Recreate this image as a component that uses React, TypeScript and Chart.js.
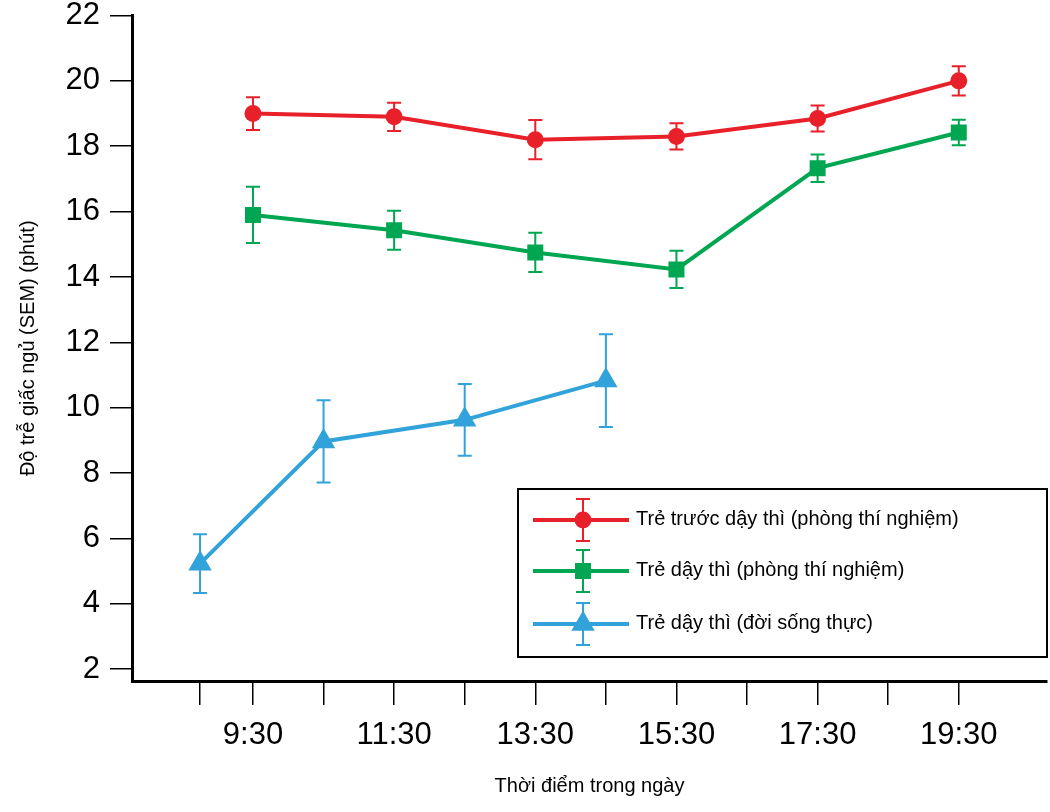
import React, { useEffect, useRef } from "react";
import { Chart, registerables } from "chart.js";

Chart.register(...registerables);

// ---------- data ----------
const labTimes = [9.5, 11.5, 13.5, 15.5, 17.5, 19.5];
const realTimes = [8.75, 10.5, 12.5, 14.5];

const prepubertalLab = [19.0, 18.9, 18.2, 18.3, 18.85, 20.0];
const prepubertalLabSem = [0.5, 0.43, 0.6, 0.4, 0.4, 0.45];

const pubertalLab = [15.9, 15.43, 14.75, 14.23, 17.33, 18.42];
const pubertalLabSem = [0.86, 0.6, 0.6, 0.57, 0.42, 0.39];

const pubertalReal = [5.23, 8.97, 9.63, 10.83];
const pubertalRealSem = [0.9, 1.26, 1.1, 1.42];

const seriesNames = [
  "Trẻ trước dậy thì (phòng thí nghiệm)",
  "Trẻ dậy thì (phòng thí nghiệm)",
  "Trẻ dậy thì (đời sống thực)",
];

const xTickHours = [8.75, 9.5, 10.5, 11.5, 12.5, 13.5, 14.5, 15.5, 16.5, 17.5, 18.5, 19.5];
const xTickLabels = ["9:30", "11:30", "13:30", "15:30", "17:30", "19:30"];
const yTickValues = [2, 4, 6, 8, 10, 12, 14, 16, 18, 20, 22];

const xTitle = "Thời điểm trong ngày";
const yTitle = "Độ trễ giấc ngủ (SEM) (phút)";

// ---------- styles ----------
const RED = "#E8202A";
const GREEN = "#00A651";
const BLUE = "#31A2DA";
const FONT = "'Liberation Sans', Arial, Helvetica, sans-serif";

const errorBarPlugin = {
  id: "errorBars",
  beforeDatasetsDraw(chart: any) {
    const { ctx } = chart;
    const xs = chart.scales.x;
    const ys = chart.scales.y;
    chart.data.datasets.forEach((ds: any) => {
      const sem: number[] = ds.sem || [];
      ctx.save();
      ctx.strokeStyle = ds.borderColor;
      ctx.lineWidth = 2;
      ds.data.forEach((pt: any, j: number) => {
        const e = sem[j];
        if (e == null) return;
        const px = xs.getPixelForValue(pt.x);
        const top = ys.getPixelForValue(pt.y + e);
        const bot = ys.getPixelForValue(pt.y - e);
        ctx.beginPath();
        ctx.moveTo(px, top);
        ctx.lineTo(px, bot);
        ctx.moveTo(px - 7, top);
        ctx.lineTo(px + 7, top);
        ctx.moveTo(px - 7, bot);
        ctx.lineTo(px + 7, bot);
        ctx.stroke();
      });
      ctx.restore();
    });
  },
};

function drawMarker(ctx: CanvasRenderingContext2D, style: string, x: number, y: number, r: number) {
  ctx.beginPath();
  if (style === "circle") {
    ctx.arc(x, y, r, 0, Math.PI * 2);
  } else if (style === "rect") {
    const s = r * Math.SQRT1_2;
    ctx.rect(x - s, y - s, 2 * s, 2 * s);
  } else {
    ctx.moveTo(x, y - r);
    ctx.lineTo(x + r * 0.866, y + r / 2);
    ctx.lineTo(x - r * 0.866, y + r / 2);
    ctx.closePath();
  }
  ctx.fill();
}

const boxLegendPlugin = {
  id: "boxLegend",
  afterDraw(chart: any) {
    const { ctx } = chart;
    const area = chart.chartArea;
    const right = area.right;
    const left = 518;
    const top = 489;
    const bottom = 657;
    ctx.save();
    ctx.fillStyle = "#fff";
    ctx.fillRect(left, top, right - left, bottom - top);
    ctx.strokeStyle = "#000";
    ctx.lineWidth = 2;
    ctx.strokeRect(left, top, right - left, bottom - top);
    const rows = [520, 571, 624];
    chart.data.datasets.forEach((ds: any, i: number) => {
      const cy = rows[i];
      const mx = 583;
      ctx.strokeStyle = ds.borderColor;
      ctx.fillStyle = ds.borderColor;
      ctx.lineWidth = 4;
      ctx.beginPath();
      ctx.moveTo(533, cy);
      ctx.lineTo(629, cy);
      ctx.stroke();
      ctx.lineWidth = 2;
      ctx.beginPath();
      ctx.moveTo(mx, cy - 21);
      ctx.lineTo(mx, cy + 21);
      ctx.moveTo(mx - 7, cy - 21);
      ctx.lineTo(mx + 7, cy - 21);
      ctx.moveTo(mx - 7, cy + 21);
      ctx.lineTo(mx + 7, cy + 21);
      ctx.stroke();
      drawMarker(ctx, ds.pointStyle, mx, cy, ds.pointRadius);
      ctx.fillStyle = "#000";
      ctx.font = `20px ${FONT}`;
      ctx.textBaseline = "middle";
      ctx.textAlign = "left";
      ctx.fillText(ds.label, 636, cy - 1);
    });
    ctx.restore();
  },
};

export default function App() {
  const canvasRef = useRef<HTMLCanvasElement | null>(null);

  useEffect(() => {
    if (!canvasRef.current) return;
    const mk = (xs: number[], ys: number[]) => xs.map((x, i) => ({ x, y: ys[i] }));
    const chart = new Chart(canvasRef.current, {
      type: "line",
      data: {
        datasets: [
          {
            label: seriesNames[0],
            data: mk(labTimes, prepubertalLab),
            sem: prepubertalLabSem,
            borderColor: RED,
            backgroundColor: RED,
            borderWidth: 4,
            pointStyle: "circle",
            pointRadius: 8.5,
            pointBorderWidth: 0,
          } as any,
          {
            label: seriesNames[1],
            data: mk(labTimes, pubertalLab),
            sem: pubertalLabSem,
            borderColor: GREEN,
            backgroundColor: GREEN,
            borderWidth: 4,
            pointStyle: "rect",
            pointRadius: 11.3,
            pointBorderWidth: 0,
          } as any,
          {
            label: seriesNames[2],
            data: mk(realTimes, pubertalReal),
            sem: pubertalRealSem,
            borderColor: BLUE,
            backgroundColor: BLUE,
            borderWidth: 4,
            pointStyle: "triangle",
            pointRadius: 13.5,
            pointBorderWidth: 0,
          } as any,
        ],
      },
      options: {
        animation: false,
        responsive: true,
        maintainAspectRatio: false,
        layout: { autoPadding: false, padding: { top: 15.5, right: 3, bottom: 0, left: 0 } },
        plugins: {
          legend: { display: false },
          tooltip: { enabled: false },
        },
        events: [],
        scales: {
          x: {
            type: "linear",
            min: 7.786,
            max: 20.75,
            afterBuildTicks: (s: any) => {
              s.ticks = xTickHours.map((v) => ({ value: v }));
            },
            afterFit: (s: any) => {
              s.height = 131;
              s.paddingLeft = 0;
              s.paddingRight = 0;
              s.paddingTop = 0;
              s.paddingBottom = 0;
            },
            grid: {
              drawOnChartArea: false,
              drawTicks: true,
              tickLength: 24,
              color: "#000",
              lineWidth: 1.5,
            },
            border: { display: true, color: "#000", width: 3 },
            ticks: {
              autoSkip: false,
              maxRotation: 0,
              padding: 12,
              color: "#000",
              font: { family: FONT, size: 31 },
              callback: (v: any) => {
                const idx = labTimes.findIndex((t) => Math.abs(t - Number(v)) < 1e-6);
                return idx >= 0 ? xTickLabels[idx] : "";
              },
            },
            title: {
              display: true,
              text: xTitle,
              color: "#000",
              font: { family: FONT, size: 20 },
              padding: { top: 0, bottom: 14 },
            },
          },
          y: {
            type: "linear",
            min: 1.64,
            max: 22,
            afterBuildTicks: (s: any) => {
              s.ticks = yTickValues.map((v) => ({ value: v }));
            },
            afterFit: (s: any) => {
              s.width = 132;
              s.paddingLeft = 0;
              s.paddingRight = 0;
              s.paddingTop = 0;
              s.paddingBottom = 0;
            },
            grid: {
              drawOnChartArea: false,
              drawTicks: true,
              tickLength: 22,
              color: "#000",
              lineWidth: 1.5,
            },
            border: { display: true, color: "#000", width: 3 },
            ticks: {
              autoSkip: false,
              padding: 10,
              color: "#000",
              font: { family: FONT, size: 31, lineHeight: 1.0 },
            },
            title: {
              display: true,
              text: yTitle,
              color: "#000",
              font: { family: FONT, size: 20 },
              padding: { top: 16, bottom: 0 },
            },
          },
        },
      } as any,
      plugins: [errorBarPlugin, boxLegendPlugin],
    });
    return () => chart.destroy();
  }, []);

  return (
    <div style={{ position: "absolute", left: 0, top: 0, width: 1050, height: 812, background: "#fff" }}>
      <canvas ref={canvasRef} />
    </div>
  );
}
